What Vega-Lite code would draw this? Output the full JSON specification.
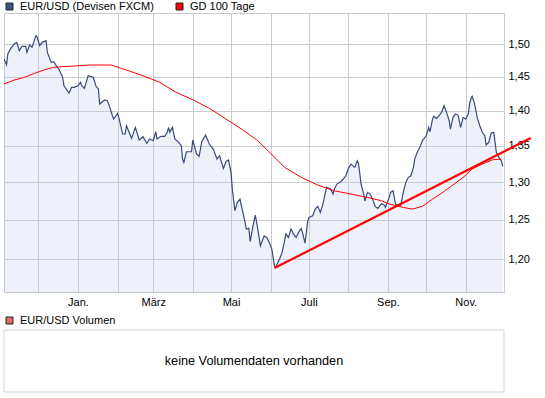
{
  "$schema": "https://vega.github.io/schema/vega-lite/v6.json",
  "padding": {"left": 3, "top": 0, "right": 0, "bottom": 0},
  "background": "white",
  "config": {
    "font": "Liberation Sans",
    "view": {"stroke": "#c8c8c8", "strokeWidth": 1},
    "axis": {"gridColor": "#cccccc", "gridOpacity": 1, "gridWidth": 1, "domain": false, "ticks": false, "labelFont": "Liberation Sans", "labelFontSize": 11, "labelColor": "#000000", "title": null},
    "legend": {"orient": "top", "direction": "horizontal", "title": null, "symbolType": "square", "symbolSize": 49, "symbolStrokeColor": "#222222", "symbolStrokeWidth": 1, "symbolOpacity": 1, "labelFont": "Liberation Sans", "labelFontSize": 11, "labelColor": "#000000", "columnPadding": 20, "labelOffset": 5, "offset": 1, "padding": 0},
    "concat": {"spacing": 7}
  },
  "datasets": {
    "price": [
      {"d":"2009-11-04","v":1.477},{"d":"2009-11-06","v":1.468},{"d":"2009-11-07","v":1.4845},{"d":"2009-11-09","v":1.4922},{"d":"2009-11-12","v":1.5},{"d":"2009-11-14","v":1.5026},{"d":"2009-11-16","v":1.4896},{"d":"2009-11-18","v":1.4964},{"d":"2009-11-21","v":1.4964},{"d":"2009-11-22","v":1.4871},{"d":"2009-11-24","v":1.4984},{"d":"2009-11-26","v":1.4949},{"d":"2009-11-29","v":1.513},{"d":"2009-11-30","v":1.5105},
      {"d":"2009-12-02","v":1.4974},{"d":"2009-12-04","v":1.5026},{"d":"2009-12-07","v":1.5051},{"d":"2009-12-08","v":1.4871},{"d":"2009-12-11","v":1.4718},{"d":"2009-12-13","v":1.4727},{"d":"2009-12-15","v":1.4666},{"d":"2009-12-17","v":1.4616},{"d":"2009-12-20","v":1.4491},{"d":"2009-12-21","v":1.4365},{"d":"2009-12-25","v":1.4257},{"d":"2009-12-27","v":1.4341},{"d":"2009-12-29","v":1.4341},
      {"d":"2010-01-01","v":1.4365},{"d":"2010-01-03","v":1.4416},{"d":"2010-01-04","v":1.4365},{"d":"2010-01-06","v":1.4326},{"d":"2010-01-09","v":1.4515},{"d":"2010-01-13","v":1.4491},{"d":"2010-01-15","v":1.4365},{"d":"2010-01-17","v":1.4316},{"d":"2010-01-18","v":1.4095},{"d":"2010-01-22","v":1.4154},{"d":"2010-01-24","v":1.4144},{"d":"2010-01-26","v":1.4047},{"d":"2010-01-28","v":1.3925},{"d":"2010-01-29","v":1.3878},
      {"d":"2010-02-01","v":1.396},{"d":"2010-02-02","v":1.3902},{"d":"2010-02-05","v":1.3664},{"d":"2010-02-07","v":1.3664},{"d":"2010-02-08","v":1.3782},{"d":"2010-02-12","v":1.3603},{"d":"2010-02-15","v":1.3759},{"d":"2010-02-18","v":1.3579},{"d":"2010-02-21","v":1.3625},{"d":"2010-02-24","v":1.3532},{"d":"2010-02-26","v":1.3593},
      {"d":"2010-03-01","v":1.3569},{"d":"2010-03-03","v":1.3696},{"d":"2010-03-04","v":1.3593},{"d":"2010-03-07","v":1.3631},{"d":"2010-03-10","v":1.3631},{"d":"2010-03-12","v":1.3688},{"d":"2010-03-13","v":1.3759},{"d":"2010-03-14","v":1.3688},{"d":"2010-03-16","v":1.3759},{"d":"2010-03-18","v":1.3593},{"d":"2010-03-21","v":1.3546},{"d":"2010-03-23","v":1.3499},{"d":"2010-03-24","v":1.3314},{"d":"2010-03-25","v":1.3268},{"d":"2010-03-27","v":1.3415},{"d":"2010-03-31","v":1.3415},
      {"d":"2010-04-01","v":1.3579},{"d":"2010-04-04","v":1.3383},{"d":"2010-04-06","v":1.3351},{"d":"2010-04-08","v":1.3555},{"d":"2010-04-11","v":1.3649},{"d":"2010-04-14","v":1.3523},{"d":"2010-04-17","v":1.3453},{"d":"2010-04-20","v":1.3314},{"d":"2010-04-22","v":1.336},{"d":"2010-04-25","v":1.3186},{"d":"2010-04-27","v":1.3277},{"d":"2010-04-29","v":1.33},
      {"d":"2010-05-01","v":1.3131},{"d":"2010-05-02","v":1.2906},{"d":"2010-05-04","v":1.2619},{"d":"2010-05-06","v":1.2729},{"d":"2010-05-08","v":1.2773},{"d":"2010-05-10","v":1.2619},{"d":"2010-05-12","v":1.2468},{"d":"2010-05-13","v":1.2382},{"d":"2010-05-15","v":1.2391},{"d":"2010-05-16","v":1.222},{"d":"2010-05-18","v":1.2403},{"d":"2010-05-20","v":1.2563},{"d":"2010-05-22","v":1.2382},{"d":"2010-05-24","v":1.2169},{"d":"2010-05-27","v":1.2296},{"d":"2010-05-29","v":1.2275},{"d":"2010-05-31","v":1.2212},
      {"d":"2010-06-02","v":1.2127},{"d":"2010-06-04","v":1.1919},{"d":"2010-06-05","v":1.19},{"d":"2010-06-06","v":1.194},{"d":"2010-06-08","v":1.2002},{"d":"2010-06-10","v":1.2086},{"d":"2010-06-12","v":1.2232},{"d":"2010-06-13","v":1.2318},{"d":"2010-06-15","v":1.2275},{"d":"2010-06-17","v":1.2382},{"d":"2010-06-19","v":1.2318},{"d":"2010-06-21","v":1.2275},{"d":"2010-06-23","v":1.2339},{"d":"2010-06-25","v":1.2391},{"d":"2010-06-26","v":1.2339},{"d":"2010-06-28","v":1.2203},{"d":"2010-06-30","v":1.2468},
      {"d":"2010-07-01","v":1.2533},{"d":"2010-07-04","v":1.2554},{"d":"2010-07-06","v":1.2641},{"d":"2010-07-08","v":1.2677},{"d":"2010-07-10","v":1.2598},{"d":"2010-07-12","v":1.2707},{"d":"2010-07-14","v":1.2862},{"d":"2010-07-15","v":1.2929},{"d":"2010-07-18","v":1.2906},{"d":"2010-07-20","v":1.2839},{"d":"2010-07-21","v":1.2906},{"d":"2010-07-23","v":1.2973},{"d":"2010-07-26","v":1.3004},{"d":"2010-07-28","v":1.3041},{"d":"2010-07-30","v":1.3085},
      {"d":"2010-08-01","v":1.3186},{"d":"2010-08-03","v":1.3245},{"d":"2010-08-06","v":1.32},{"d":"2010-08-08","v":1.329},{"d":"2010-08-09","v":1.3245},{"d":"2010-08-11","v":1.2973},{"d":"2010-08-13","v":1.2839},{"d":"2010-08-14","v":1.275},{"d":"2010-08-16","v":1.2862},{"d":"2010-08-18","v":1.2839},{"d":"2010-08-20","v":1.2773},{"d":"2010-08-22","v":1.2677},{"d":"2010-08-24","v":1.265},{"d":"2010-08-27","v":1.271},{"d":"2010-08-29","v":1.2694},{"d":"2010-08-30","v":1.2663},
      {"d":"2010-09-02","v":1.2795},{"d":"2010-09-03","v":1.2862},{"d":"2010-09-05","v":1.2883},{"d":"2010-09-07","v":1.2707},{"d":"2010-09-09","v":1.2684},{"d":"2010-09-11","v":1.2684},{"d":"2010-09-13","v":1.2862},{"d":"2010-09-15","v":1.2996},{"d":"2010-09-17","v":1.3064},{"d":"2010-09-19","v":1.3085},{"d":"2010-09-21","v":1.32},{"d":"2010-09-22","v":1.3314},{"d":"2010-09-24","v":1.3407},{"d":"2010-09-26","v":1.3476},{"d":"2010-09-28","v":1.3569},{"d":"2010-09-30","v":1.3617},
      {"d":"2010-10-01","v":1.3639},{"d":"2010-10-03","v":1.3759},{"d":"2010-10-04","v":1.3696},{"d":"2010-10-06","v":1.3878},{"d":"2010-10-07","v":1.3917},{"d":"2010-10-09","v":1.3888},{"d":"2010-10-11","v":1.3925},{"d":"2010-10-13","v":1.3974},{"d":"2010-10-15","v":1.407},{"d":"2010-10-17","v":1.3974},{"d":"2010-10-19","v":1.3853},{"d":"2010-10-20","v":1.3734},{"d":"2010-10-22","v":1.3902},{"d":"2010-10-24","v":1.395},{"d":"2010-10-26","v":1.3935},{"d":"2010-10-28","v":1.3759},{"d":"2010-10-30","v":1.3902},
      {"d":"2010-11-01","v":1.3878},{"d":"2010-11-03","v":1.395},{"d":"2010-11-04","v":1.4095},{"d":"2010-11-05","v":1.4169},{"d":"2010-11-06","v":1.4208},{"d":"2010-11-08","v":1.4095},{"d":"2010-11-10","v":1.3902},{"d":"2010-11-12","v":1.3782},{"d":"2010-11-14","v":1.3688},{"d":"2010-11-16","v":1.3639},{"d":"2010-11-17","v":1.3509},{"d":"2010-11-19","v":1.3546},{"d":"2010-11-21","v":1.3678},{"d":"2010-11-23","v":1.3688},{"d":"2010-11-24","v":1.3546},{"d":"2010-11-25","v":1.3407},{"d":"2010-11-27","v":1.3337},{"d":"2010-11-29","v":1.329},{"d":"2010-11-30","v":1.3213}
    ],
    "ma": [
      {"d":"2009-11-04","v":1.4391},{"d":"2009-11-12","v":1.445},{"d":"2009-11-20","v":1.4491},{"d":"2009-11-28","v":1.4551},{"d":"2009-12-06","v":1.4606},{"d":"2009-12-13","v":1.4642},{"d":"2009-12-19","v":1.4651},{"d":"2010-01-01","v":1.4665},{"d":"2010-01-10","v":1.4677},{"d":"2010-01-27","v":1.4677},{"d":"2010-02-04","v":1.4627},{"d":"2010-02-11","v":1.4581},{"d":"2010-02-21","v":1.4515},{"d":"2010-03-06","v":1.4416},{"d":"2010-03-19","v":1.4267},{"d":"2010-04-01","v":1.4158},{"d":"2010-04-14","v":1.4033},{"d":"2010-04-27","v":1.3878},{"d":"2010-05-10","v":1.3725},{"d":"2010-05-21","v":1.3583},{"d":"2010-05-30","v":1.3429},{"d":"2010-06-12","v":1.32},{"d":"2010-06-25","v":1.3064},{"d":"2010-07-08","v":1.296},{"d":"2010-07-21","v":1.2883},{"d":"2010-08-03","v":1.2839},{"d":"2010-08-16","v":1.2795},{"d":"2010-08-27","v":1.275},{"d":"2010-09-02","v":1.2707},{"d":"2010-09-13","v":1.2663},{"d":"2010-09-20","v":1.2641},{"d":"2010-09-28","v":1.2677},{"d":"2010-10-06","v":1.2773},{"d":"2010-10-14","v":1.2862},{"d":"2010-10-21","v":1.295},{"d":"2010-10-30","v":1.3064},{"d":"2010-11-06","v":1.3176},{"d":"2010-11-14","v":1.3245},{"d":"2010-11-22","v":1.3304},{"d":"2010-11-29","v":1.3314}
    ],
    "trend": [
      {"d":"2010-06-04","v":1.1891},{"d":"2010-12-22","v":1.3607}
    ],
    "series": [
      {"s":"EUR/USD (Devisen FXCM)"},{"s":"GD 100 Tage"}
    ]
  },
  "vconcat": [
    {
      "width": 500,
      "height": 279,
      "layer": [
        {"data": {"name": "price"}, "mark": {"type": "area", "color": "#bbc7eb", "opacity": 0.25, "clip": true},
          "encoding": {
            "x": {"field": "d", "type": "temporal",
              "scale": {"type": "utc", "domain": [{"year": 2009, "month": 11, "date": 4, "utc": true}, {"year": 2010, "month": 12, "date": 1, "utc": true}]},
              "axis": {"tickCount": {"interval": "month", "step": 1}, "grid": true, "labelPadding": 4, "labelFlush": false, "labelOverlap": false,
                "labelExpr": "utcmonth(datum.value) % 2 == 0 ? ['Jan.','Feb.','März','Apr.','Mai','Juni','Juli','Aug.','Sep.','Okt.','Nov.','Dez.'][utcmonth(datum.value)] : ''"}},
            "y": {"field": "v", "type": "quantitative",
              "scale": {"type": "log", "domain": [1.16, 1.549], "nice": false, "zero": false},
              "axis": {"orient": "right", "values": [1.2, 1.25, 1.3, 1.35, 1.4, 1.45, 1.5], "grid": true, "labelPadding": 4,
                "labelExpr": "replace(format(datum.value, '.2f'), '.', ',')"}},
            "y2": {"datum": 1.16}}},
        {"data": {"name": "price"}, "mark": {"type": "line", "stroke": "#3a4b7b", "strokeWidth": 1.2, "clip": true},
          "encoding": {"x": {"field": "d", "type": "temporal"}, "y": {"field": "v", "type": "quantitative"}}},
        {"data": {"name": "ma"}, "mark": {"type": "line", "stroke": "#ff0000", "strokeWidth": 1, "clip": true},
          "encoding": {"x": {"field": "d", "type": "temporal"}, "y": {"field": "v", "type": "quantitative"}}},
        {"data": {"name": "trend"}, "mark": {"type": "line", "stroke": "#ff0000", "strokeWidth": 2.2, "clip": false},
          "encoding": {"x": {"field": "d", "type": "temporal"}, "y": {"field": "v", "type": "quantitative"}}},
        {"data": {"name": "series"}, "mark": {"type": "square", "opacity": 0},
          "encoding": {"color": {"field": "s", "type": "nominal",
            "scale": {"domain": ["EUR/USD (Devisen FXCM)", "GD 100 Tage"], "range": ["#3d5286", "#ff0000"]}}}}
      ]
    },
    {
      "width": 500,
      "height": 62,
      "data": {"values": [{"s": "EUR/USD Volumen", "t": "keine Volumendaten vorhanden"}]},
      "layer": [
        {"mark": {"type": "rect", "filled": false, "stroke": "#d4d4d4", "strokeWidth": 1}, "encoding": {}},
        {"mark": {"type": "text", "fontSize": 12.7, "font": "Liberation Sans", "color": "#000000"}, "encoding": {"text": {"field": "t"}}},
        {"mark": {"type": "square", "opacity": 0},
          "encoding": {"color": {"field": "s", "type": "nominal", "scale": {"domain": ["EUR/USD Volumen"], "range": ["#e06c6c"]},
            "legend": {"offset": 4}}}}
      ]
    }
  ],
  "resolve": {"scale": {"color": "independent"}, "legend": {"color": "independent"}}
}
